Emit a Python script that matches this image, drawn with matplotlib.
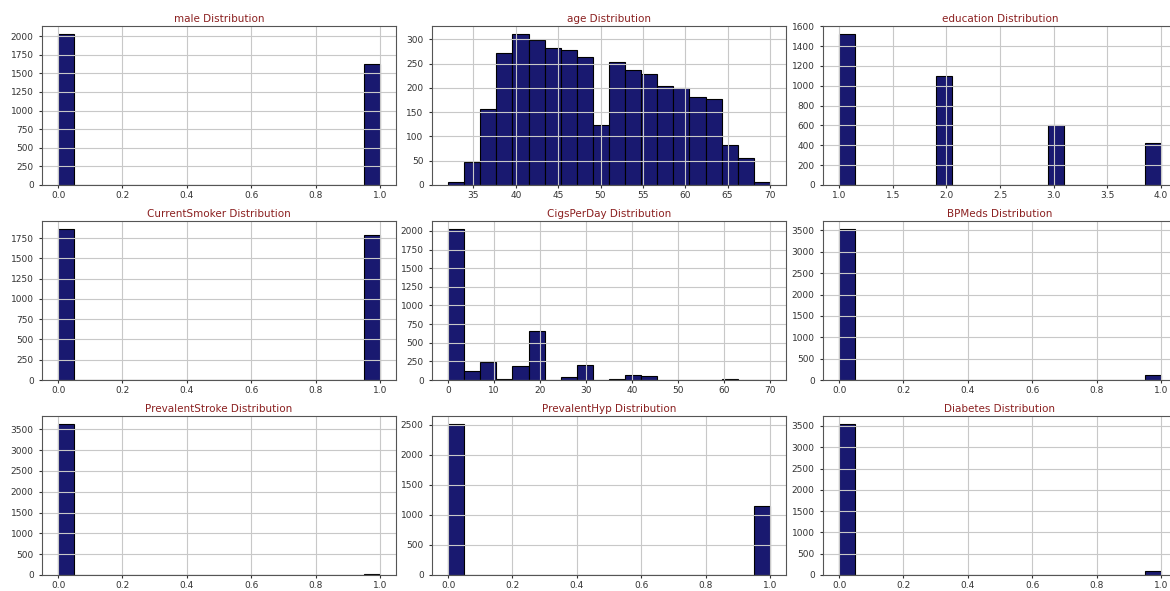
import matplotlib.pyplot as plt
import numpy as np
from matplotlib.ticker import MaxNLocator

plt.rcdefaults()
plt.rcParams['font.size'] = 7

# histogram counts per column (20 bins each)
male_counts = [2035] + [0] * 18 + [1621]
age_counts = [7, 48, 157, 271, 312, 299, 283, 279, 264, 123,
              253, 236, 228, 205, 200, 182, 177, 82, 55, 7]
education_counts = [1526] + [0] * 5 + [1101] + [0] * 6 + [606] + [0] * 5 + [423]
smoker_counts = [1868] + [0] * 18 + [1788]
cigs_counts = [2031, 125, 245, 10, 192, 661, 2, 45, 201, 0,
               15, 62, 50, 0, 6, 0, 0, 9, 0, 1]
bpmeds_counts = [3545] + [0] * 18 + [111]
stroke_counts = [3635] + [0] * 18 + [21]
hyp_counts = [2517] + [0] * 18 + [1139]
diabetes_counts = [3557] + [0] * 18 + [99]

columns = ["male", "age", "education",
           "CurrentSmoker", "CigsPerDay", "BPMeds",
           "PrevalentStroke", "PrevalentHyp", "Diabetes"]
ranges = [(0, 1), (32, 70), (1, 4),
          (0, 1), (0, 70), (0, 1),
          (0, 1), (0, 1), (0, 1)]
counts = [male_counts, age_counts, education_counts,
          smoker_counts, cigs_counts, bpmeds_counts,
          stroke_counts, hyp_counts, diabetes_counts]

W, H = 1170, 591
fig = plt.figure(figsize=(W / 100, H / 100), dpi=100)

col_left = [42, 432, 823]
row_top = [26, 221, 416]
ax_w, ax_h = 354, 159

for i, name in enumerate(columns):
  r, c = divmod(i, 3)
  ax = fig.add_axes([col_left[c] / W, 1 - (row_top[r] + ax_h) / H, ax_w / W, ax_h / H])
  lo, hi = ranges[i]
  edges = np.linspace(lo, hi, 21)
  ax.hist(edges[:-1], bins=edges, weights=counts[i],
          color="midnightblue", edgecolor="black", linewidth=0.8)
  ax.grid(True, color="#c8c8c8", linewidth=0.8)
  ax.yaxis.set_major_locator(MaxNLocator(nbins=9, steps=[1, 2, 2.5, 5, 10]))
  ax.set_title(name + " Distribution", color="#8b2020", fontsize=7.5, pad=3)
  for s in ax.spines.values():
    s.set_color("#555555")
  ax.tick_params(colors="#333333", labelsize=6.5, length=2.5)
  ax.tick_params(axis="x", pad=1.5)

fig.savefig("out.png", dpi=100)
